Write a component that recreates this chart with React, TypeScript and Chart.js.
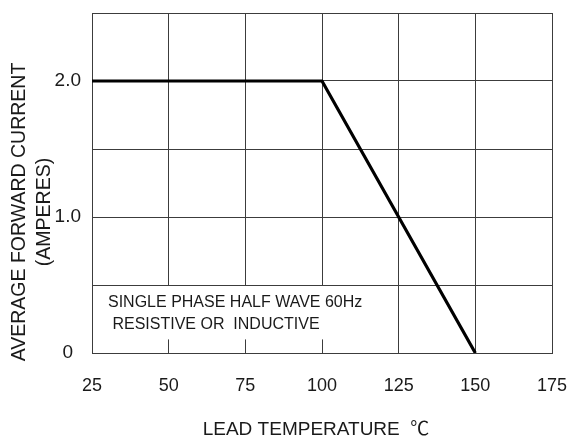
import { useEffect, useRef } from 'react';
import { Chart, registerables } from 'chart.js';

Chart.register(...registerables);

// Derating curve: lead temperature (°C) vs average forward current (A)
const temperatures = [25, 100, 150];
const currents = [2.0, 2.0, 0];

const xTickValues = [25, 50, 75, 100, 125, 150, 175];
const yTickValues = [0, 0.5, 1.0, 1.5, 2.0, 2.5];
const yTickLabels = ['0', '', '1.0', '', '2.0', ''];

const xTitle = 'LEAD TEMPERATURE  ℃';
const yTitleLines = ['AVERAGE FORWARD CURRENT', '(AMPERES)'];
const noteLines = ['SINGLE PHASE HALF WAVE 60Hz', ' RESISTIVE OR  INDUCTIVE'];

const FONT = '"Liberation Sans", Arial, "Noto Sans CJK SC", sans-serif';
const TEXT = '#1a1a1a';
const GRID = '#3c3c3c';

const overlayPlugin = {
  id: 'overlay',
  beforeDatasetsDraw(chart: any) {
    const { ctx, scales } = chart;
    const xs = scales.x;
    const ys = scales.y;
    // white note box that hides the grid behind the text
    const x0 = xs.getPixelForValue(25) + 1;
    const x1 = xs.getPixelForValue(125) - 1;
    const y0 = ys.getPixelForValue(0.5) + 1;
    const y1 = ys.getPixelForValue(0.1);
    ctx.save();
    ctx.fillStyle = '#ffffff';
    ctx.fillRect(x0, y0, x1 - x0, y1 - y0);
    ctx.fillStyle = TEXT;
    ctx.font = `16px ${FONT}`;
    ctx.textBaseline = 'middle';
    ctx.textAlign = 'left';
    ctx.fillText(noteLines[0], x0 + 15, y0 + 17);
    ctx.fillText(noteLines[1], x0 + 15, y0 + 39);
    ctx.restore();
  },
  afterDraw(chart: any) {
    const { ctx, chartArea } = chart;
    ctx.save();
    ctx.fillStyle = TEXT;
    // x-axis title
    ctx.font = `19px ${FONT}`;
    ctx.textAlign = 'center';
    ctx.textBaseline = 'middle';
    ctx.fillText(xTitle, (chartArea.left + chartArea.right) / 2 - 6, 430);
    // y-axis title (two rotated lines)
    ctx.translate(0, 212);
    ctx.rotate(-Math.PI / 2);
    ctx.font = `19.5px ${FONT}`;
    ctx.fillText(yTitleLines[0], 0, 20);
    ctx.fillText(yTitleLines[1], 0, 45);
    ctx.restore();
  },
};

export default function App() {
  const canvasRef = useRef<HTMLCanvasElement | null>(null);

  useEffect(() => {
    if (!canvasRef.current) return;
    const chart = new Chart(canvasRef.current, {
      type: 'line',
      data: {
        datasets: [
          {
            data: temperatures.map((t, i) => ({ x: t, y: currents[i] })),
            borderColor: '#000000',
            borderWidth: 3.2,
            pointRadius: 0,
            tension: 0,
            fill: false,
          },
        ],
      },
      options: {
        animation: false,
        responsive: true,
        maintainAspectRatio: false,
        layout: { padding: { top: 13, right: 15, left: 0, bottom: 0 } },
        plugins: {
          legend: { display: false },
          tooltip: { enabled: false },
        },
        scales: {
          x: {
            type: 'linear',
            min: 25,
            max: 175,
            afterBuildTicks: (scale: any) => {
              scale.ticks = xTickValues.map((v) => ({ value: v }));
            },
            afterFit: (scale: any) => {
              scale.height = 83;
              scale.paddingLeft = 0;
              scale.paddingRight = 0;
            },
            grid: { color: GRID, lineWidth: 1, drawTicks: false },
            border: { color: GRID, width: 1 },
            ticks: {
              padding: 22,
              color: TEXT,
              font: { family: FONT, size: 18 },
              maxRotation: 0,
              autoSkip: false,
              callback: (v: any) => String(v),
            },
          },
          y: {
            type: 'linear',
            min: 0,
            max: 2.5,
            afterBuildTicks: (scale: any) => {
              scale.ticks = yTickValues.map((v) => ({ value: v }));
            },
            afterFit: (scale: any) => {
              scale.width = 92;
              scale.paddingTop = 0;
              scale.paddingBottom = 0;
            },
            grid: { color: GRID, lineWidth: 1, drawTicks: false },
            border: { color: GRID, width: 1 },
            ticks: {
              padding: 11,
              crossAlign: 'center',
              color: TEXT,
              font: { family: FONT, size: 19 },
              autoSkip: false,
              callback: (v: any) => {
                const i = yTickValues.indexOf(Number(v));
                return i >= 0 ? yTickLabels[i] : '';
              },
            },
          },
        },
      },
      plugins: [overlayPlugin],
    } as any);
    return () => chart.destroy();
  }, []);

  return (
    <div style={{ position: 'fixed', left: 0, top: 0, width: 567, height: 436, background: '#fff' }}>
      <canvas ref={canvasRef} />
    </div>
  );
}
